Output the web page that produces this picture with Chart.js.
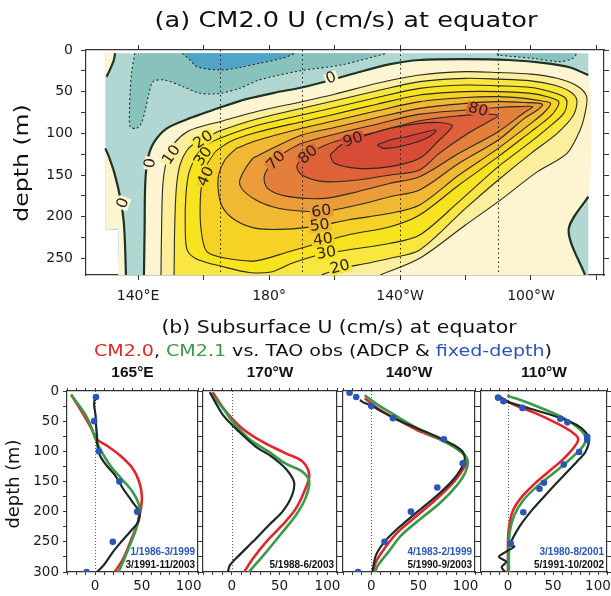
<!DOCTYPE html>
<html>
<head>
<meta charset="utf-8">
<title>CM2.0 U at equator</title>
<script src="https://cdn.jsdelivr.net/npm/chart.js@4.4.1/dist/chart.umd.min.js"></script>
<style>
  body { margin: 0; background: #fff; }
  #page { position: relative; width: 611px; height: 596px; overflow: hidden; }
  #page canvas { position: absolute; }
</style>
</head>
<body>
<div id="page">
  <canvas id="section" width="611" height="365" style="left:0;top:0"></canvas>
  <canvas id="p165" width="203" height="234" style="left:0;top:362px"></canvas>
  <canvas id="p170" width="144" height="234" style="left:198px;top:362px"></canvas>
  <canvas id="p140" width="142" height="234" style="left:338px;top:362px"></canvas>
  <canvas id="p110" width="135" height="234" style="left:476px;top:362px"></canvas>
</div>
<script>
// ---------------- (a) CM2.0 U section along the equator ----------------
// points are [longitude (deg E), depth (m)]
const lonTickValues = [140, 160, 180, 200, 220, 240, 260, 280];
const lonTickLabels = ['140°E', '', '180°', '', '140°W', '', '100°W', ''];
const depthTicksA = [0, 25, 50, 75, 100, 125, 150, 175, 200, 225, 250];
const stationLons = [165, 190, 220, 250];

const dataEdge = [[130,4],[277.5,4],[277.5,270],[134,270],[134,216],[130,216]];
const stripEdge = [[134,270],[134,216],[130,216]];
const topLeftEdge = [[130,32],[130,4]];

const zeroWestStrip = [[130,118],[131,127],[132.8,148],[134.6,178],[135.6,205],[136,232],[136.3,270]];
const zeroTopLeft = [[133,4],[132.6,12],[131.6,22],[130.4,32]];
const zeroMain = [[141.8,270],[142,215],[142.2,160],[143,130],[145,110],[148.8,94],[155,83],[160,76],[165,69],[173,59],[182,51],[190,45],[199,36],[207,27],[217,17],[226,12],[240,11],[253,12],[265,16],[272,21],[277.5,30]];
const zeroEast = [[277.5,176],[271.5,216],[276.5,270]];

const negTenWest = [[139,4],[138,28],[137.6,50],[137.4,70],[137.6,92],[139.6,94],[141,88],[142.2,72],[143.2,54],[144.6,38],[148,36],[153.8,44],[159,52],[165,52],[171,46],[177,36],[189.5,25],[202,18],[214,6],[216,4]];
const negTwenty = [[153.5,4],[155.9,12],[158,20],[165,24],[171,21],[177,16],[184,10],[188,4]];
const negTenEast = [[249.6,4],[250,6],[260.6,10],[268.9,14],[272.8,10],[274,4]];

const c10 = [[147,270],[147.2,210],[147.6,160],[149,128],[151,112],[155,98],[160,91],[165,86],[176,74],[190,62],[200,53],[213,40],[226,30],[240,26],[250,27],[260,29],[268,34],[274,43],[277,56],[276.5,76],[275,96],[271,124],[262,146],[250,182],[240,210],[226,250],[214,270]];
const c20 = [[151,270],[151.2,210],[151.7,165],[152.8,138],[155,120],[158,110],[162,103],[165,97],[176,83],[190,70],[200,61],[213,49],[226,38],[240,34],[250,35],[260,37],[267,42],[272,50],[274,60],[273,78],[268,100],[260,124],[250,156],[240,190],[226,240],[217,250],[210,256],[202,262],[196,270]];
const c30 = [[157.5,128],[160,116],[165,106],[176,91],[190,78],[200,69],[213,57],[226,46],[240,42],[250,43],[260,45],[266,50],[270,56],[271,62],[270,76],[265,94],[260,110],[250,140],[238,182],[226,222],[217,232],[204,240],[195,246],[187,256],[181,266],[174,267],[166,260],[158,251],[155,240],[154.4,210],[154.6,175],[155.5,148]];
const c40 = [[163.5,122],[168,110],[176,99],[190,86],[200,77],[213,65],[226,54],[240,50],[250,50],[260,52],[265,56],[268.5,62],[267,75],[264,86],[260,98],[250,128],[238,162],[226,198],[217,212],[204,222],[195,232],[186,242],[176,253],[167,250],[161,242],[159.2,214],[159,180],[159.6,158],[161,138]];
const c50 = [[170,118],[176,109],[190,94],[200,85],[213,73],[226,62],[240,57],[250,56],[258,58],[263,61],[266,64],[264,75],[260,88],[250,118],[238,150],[226,186],[217,196],[204,204],[195,211],[185,215],[176,214],[170,205],[166,190],[164.6,172],[164.6,150],[166.5,132]];
const c60 = [[175,130],[180,120],[190,102],[200,93],[213,81],[226,70],[240,64],[250,62],[258,63],[263.5,65],[262,72],[258,82],[250,108],[238,136],[226,168],[217,176],[207,186],[196,194],[186,192],[181,188],[176,180],[172,168],[171,158],[172.5,144]];
const c70 = [[182,130],[186,120],[190,112],[200,101],[213,89],[226,77],[240,72],[250,69],[256,68],[260.5,68],[258,75],[250,98],[238,124],[226,152],[217,160],[207,170],[197,178],[186,176],[179.5,166],[178.5,152],[180,140]];
const c80 = [[190,130],[194,120],[200,110],[213,98],[226,85],[238,79],[246,77],[250,79],[247,86],[240,102],[232,124],[226,144],[217,150],[207,156],[197,158],[190,150],[188.5,140]];
const c90 = [[198.6,126],[202,114],[206,108],[210,102],[217,94],[226,88],[232,87],[236,91],[232,108],[226,130],[217,140],[207,142],[200,136]];
const c100 = [[213,114],[217,108],[222,104],[228,98],[231,96],[229,104],[222,114],[215,118]];

const labelLon = [199, 143.8, 135.5, 150.3, 160, 160, 160.8, 182.2, 192, 205.7, 243.8, 196, 195.5, 196.5, 197.5, 201.7];
const labelDepth = [34, 136, 184, 126, 108, 128, 152, 133, 126, 108, 72, 194, 211, 228, 244, 261];
const labelText = ['0', '0', '0', '10', '20', '30', '40', '70', '80', '90', '80', '60', '50', '40', '30', '20'];
const labelLevel = [0, 0, 0, 10, 20, 30, 40, 70, 80, 90, 80, 60, 50, 40, 30, 20];
const labelAngle = [-20, -82, -70, -55, -35, -55, -65, -45, -40, -20, 15, -8, -8, -8, -10, -15];

// ---------------- (b) subsurface U profiles, points are [U (cm/s), depth (m)] ----------------
const uTicks = [-30, -20, -10, 0, 10, 20, 30, 40, 50, 60, 70, 80, 90, 100, 110];
const uLabelValues = [0, 50, 100];
const depthTicksB = [0, 25, 50, 75, 100, 125, 150, 175, 200, 225, 250, 275, 300];

const p165cm20 = [[-25.6,6],[-14,35],[-4,62],[2,80],[12,90],[26,106],[40,128],[47,150],[50,173],[49,195],[46,217],[39,245],[30,278],[21,300]];
const p165cm21 = [[-25.6,6],[-18,22],[-10,40],[-4,60],[0,78],[5,95],[16,123],[28,145],[40,167],[47,189],[47,206],[44,228],[37,256],[30,283],[25,300]];
const p165adcp = [[0,7],[-1,23],[0.5,40],[1,55],[2,73],[2.5,90],[5,106],[12,123],[21,139],[30,162],[40,184],[47,200],[46,217],[37,234],[28,250],[19,267],[9,289],[2,300]];
const p165fixed = [[1,10],[-1,50],[4,100],[26,150],[45,200],[19,250],[-9,300]];
const p165dates = ['1/1986-3/1999', '3/1991-11/2003'];

const p170cm20 = [[-20,2],[-6,34],[11,62],[32,84],[56,103],[74,117],[81,139],[77,162],[67,195],[53,222],[36,250],[22,278],[13,300]];
const p170cm21 = [[-22,4],[-9,29],[1,51],[18,79],[39,101],[56,120],[74,134],[81,150],[77,178],[67,206],[53,234],[36,267],[18,300]];
const p170adcp = [[-23,2],[-9,40],[8,68],[25,92],[42,109],[56,128],[65,150],[63,173],[53,200],[39,222],[22,250],[8,272],[-2,289],[-4,300]];
const p170dates = [null, '5/1988-6/2003'];

const p140cm20 = [[-7,12],[7,29],[25,45],[49,65],[74,81],[93,98],[101,112],[98,128],[88,150],[70,178],[49,206],[28,234],[14,261],[5,283],[2,300]];
const p140cm21 = [[-7,7],[7,23],[25,40],[49,62],[74,81],[93,98],[102,114],[100,134],[91,156],[74,184],[53,211],[32,239],[18,267],[7,289],[4,300]];
const p140adcp = [[-12,15],[-7,20],[0,24],[11,34],[28,48],[49,62],[70,76],[88,90],[98,103],[98,120],[88,145],[70,173],[49,200],[28,228],[14,250],[5,272],[1,300]];
const p140fixed = [[-23,3],[-16,10],[0,25],[23,45],[77,80],[97,120],[70,160],[42,200],[14,250],[-14,300]];
const p140dates = ['4/1983-2/1999', '5/1990-9/2003'];

const p110cm20 = [[-10,9],[7,23],[31,37],[55,54],[71,68],[78,79],[74,92],[62,112],[45,134],[28,156],[14,178],[5,200],[1,228],[0,250],[0,300]];
const p110cm21 = [[-1,8],[14,15],[38,29],[62,45],[79,62],[86,76],[84,90],[72,109],[55,131],[34,156],[17,181],[7,206],[2,233],[1,267],[1,300]];
const p110adcp = [[-12,9],[0,18],[24,29],[55,43],[76,56],[86,68],[90,81],[86,101],[76,118],[62,140],[45,167],[28,195],[14,222],[5,245],[3,256],[7,258],[-3,267],[-10,275],[-2,283],[-7,292],[-3,300]];
const p110fixed = [[-11,11],[-5,17],[16,28],[58,46],[66,52],[88,76],[88,81],[79,101],[62,122],[40,152],[35,162],[17,201],[3,253]];
const p110dates = ['3/1980-8/2001', '5/1991-10/2002'];

// ---------------- styles ----------------
const RED = '#e1262c', GREEN = '#3b9a49', BLACK = '#1b2a22', BLUE = '#2b55b8';
const TEAL = '#b1d7d2', TEAL_DARK = '#88c2bd', SEA_BLUE = '#4fa5c8';
const band = {
  0: '#fdf5d2', 10: '#fbee9c', 20: '#f9e63e', 30: '#f8e31f', 40: '#f6d227',
  50: '#f1b833', 60: '#eb9c3a', 70: '#e47e3b', 80: '#de6139', 90: '#d84c37', 100: '#d34134'
};
const LINE = '#2a2a20', ZERO_LINE = '#1d3326', AXIS = '#333';
const FONT = 'DejaVu Sans';

Chart.defaults.font.family = FONT;
Chart.defaults.color = '#1a1a1a';

function wideText(ctx, text, x, y, size, o = {}) {
  const {sx = 1.2, color = '#111', align = 'center', weight = 'normal', family = FONT, rot = 0, bg = null} = o;
  ctx.save();
  ctx.font = `${weight} ${size}px "${family}"`;
  ctx.textBaseline = 'middle';
  ctx.textAlign = 'left';
  const w = ctx.measureText(text).width * sx;
  ctx.translate(x, y);
  ctx.rotate(rot);
  const x0 = align === 'center' ? -w / 2 : align === 'right' ? -w : 0;
  if (bg) {
    ctx.fillStyle = bg;
    ctx.fillRect(x0 - 1.5, -size * 0.42, w + 3, size * 0.84);
  }
  ctx.translate(x0, 0);
  ctx.scale(sx, 1);
  ctx.fillStyle = color;
  ctx.fillText(text, 0, 0);
  ctx.restore();
  return w;
}

function fillSet(pts, color, tension = 0.3) {
  return {data: pts.map(p => p.slice()), showLine: true, fill: 'shape', backgroundColor: color,
    borderColor: 'rgba(0,0,0,0)', borderWidth: 0, pointRadius: 0, tension};
}
function lineSet(pts, color, width, dash, closed) {
  const d = pts.map(p => p.slice());
  if (closed) d.push(pts[0].slice());
  return {data: d, showLine: true, fill: false, borderColor: color, borderWidth: width,
    borderDash: dash || [], pointRadius: 0, tension: 0.3};
}

// painter's order: first = bottom
const sectionSets = [
  fillSet(dataEdge, TEAL, 0),
  fillSet([...zeroWestStrip, ...stripEdge], band[0], 0.2),
  fillSet([...zeroTopLeft, ...topLeftEdge], band[0], 0.2),
  fillSet(negTenWest, TEAL_DARK),
  fillSet(negTenEast, TEAL_DARK),
  fillSet(negTwenty, SEA_BLUE),
  fillSet([...zeroMain, ...zeroEast], band[0]),
  fillSet(c10, band[10]), fillSet(c20, band[20]), fillSet(c30, band[30]), fillSet(c40, band[40]),
  fillSet(c50, band[50]), fillSet(c60, band[60]), fillSet(c70, band[70]), fillSet(c80, band[80]),
  fillSet(c90, band[90]), fillSet(c100, band[100]),
  lineSet(negTenWest, LINE, 1.1, [2, 2.5]),
  lineSet(negTenEast, LINE, 1.1, [2, 2.5]),
  lineSet(negTwenty, LINE, 1.1, [2, 2.5]),
  lineSet(c10, LINE, 1.1), lineSet(c20, LINE, 1.1),
  lineSet(c30, LINE, 1.1, null, true), lineSet(c40, LINE, 1.1, null, true),
  lineSet(c50, LINE, 1.1, null, true), lineSet(c60, LINE, 1.1, null, true),
  lineSet(c70, LINE, 1.1, null, true), lineSet(c80, LINE, 1.1, null, true),
  lineSet(c90, LINE, 1.1, null, true), lineSet(c100, LINE, 1.1, null, true),
  lineSet(zeroMain, ZERO_LINE, 2.2), lineSet(zeroEast, ZERO_LINE, 2.2),
  lineSet(zeroWestStrip, ZERO_LINE, 2.2), lineSet(zeroTopLeft, ZERO_LINE, 2.2)
];
sectionSets.forEach((s, i) => { s.order = sectionSets.length - i; });

const sectionDecor = {
  id: 'sectionDecor',
  afterDatasetsDraw(chart) {
    const {ctx, chartArea: a, scales: {x, y}} = chart;
    ctx.save();
    ctx.beginPath(); ctx.rect(a.left, a.top, a.width, a.height); ctx.clip();
    ctx.strokeStyle = '#222'; ctx.lineWidth = 1; ctx.setLineDash([1.5, 3]);
    stationLons.forEach(lon => {
      const px = Math.round(x.getPixelForValue(lon)) + 0.5;
      ctx.beginPath(); ctx.moveTo(px, a.top); ctx.lineTo(px, a.bottom); ctx.stroke();
    });
    ctx.restore();
    labelText.forEach((t, i) => {
      wideText(ctx, t, x.getPixelForValue(labelLon[i]), y.getPixelForValue(labelDepth[i]), 15,
        {sx: 1.05, color: '#2a2418', rot: labelAngle[i] * Math.PI / 180, bg: band[labelLevel[i]]});
    });
  },
  afterDraw(chart) {
    const ctx = chart.ctx;
    wideText(ctx, '(a) CM2.0 U (cm/s) at equator', 346, 22, 21, {sx: 1.22});
    wideText(ctx, 'depth (m)', 23, 163, 20, {sx: 1.18, rot: -Math.PI / 2});
    wideText(ctx, '(b) Subsurface U (cm/s) at equator', 339, 329, 17, {sx: 1.2});
    const parts = [['CM2.0', RED], [', ', '#111'], ['CM2.1', GREEN], [' vs. TAO obs (', '#111'],
      ['ADCP', '#111'], [' & ', '#111'], ['fixed-depth', BLUE], [')', '#111']];
    ctx.save();
    ctx.font = `16px "${FONT}"`;
    const total = parts.reduce((s, p) => s + ctx.measureText(p[0]).width * 1.19, 0);
    ctx.restore();
    let cx = 323 - total / 2;
    parts.forEach(p => { cx += wideText(ctx, p[0], cx, 352, 16, {sx: 1.19, color: p[1], align: 'left'}); });
  }
};

const axisStyle = {
  grid: {drawOnChartArea: false, drawTicks: true, tickLength: 5, color: AXIS, lineWidth: 1},
  border: {display: true, color: AXIS, width: 1.2}
};

new Chart(document.getElementById('section'), {
  type: 'scatter',
  data: {datasets: sectionSets},
  options: {
    responsive: false, animation: false, events: [],
    layout: {padding: {top: 44, left: 0, right: 0, bottom: 0}},
    plugins: {legend: {display: false}, tooltip: {enabled: false}},
    scales: {
      x: {type: 'linear', position: 'bottom', min: 124.1, max: 282.3, ...axisStyle,
        afterBuildTicks: s => { s.ticks = lonTickValues.map(v => ({value: v})); },
        afterFit: s => { s.height = 90; },
        ticks: {autoSkip: false, maxRotation: 0, padding: 8, color: '#1a1a1a', font: {size: 14},
          callback: v => lonTickLabels[lonTickValues.indexOf(v)] || ''}},
      x2: {type: 'linear', position: 'top', min: 124.1, max: 282.3, ...axisStyle,
        afterBuildTicks: s => { s.ticks = lonTickValues.map(v => ({value: v})); },
        afterFit: s => { s.height = 6; },
        ticks: {display: false}},
      y: {type: 'linear', position: 'left', min: 0, max: 270, reverse: true, ...axisStyle,
        afterBuildTicks: s => { s.ticks = depthTicksA.map(v => ({value: v})); },
        afterFit: s => { s.width = 86; },
        ticks: {autoSkip: false, padding: 8, color: '#1a1a1a', font: {size: 14},
          callback: v => (v % 50 === 0 ? String(v) : '')}},
      y2: {type: 'linear', position: 'right', min: 0, max: 270, reverse: true, ...axisStyle,
        afterBuildTicks: s => { s.ticks = depthTicksA.map(v => ({value: v})); },
        afterFit: s => { s.width = 7; },
        ticks: {display: false}}
    }
  },
  plugins: [sectionDecor]
});

// ---------------- (b) the four station panels ----------------
const panelDecor = {
  id: 'panelDecor',
  beforeDatasetsDraw(chart) {
    const {ctx, chartArea: a, scales: {x}} = chart;
    const px = Math.round(x.getPixelForValue(0)) + 0.5;
    ctx.save();
    ctx.strokeStyle = '#555'; ctx.lineWidth = 1; ctx.setLineDash([1, 2]);
    ctx.beginPath(); ctx.moveTo(px, a.top); ctx.lineTo(px, a.bottom); ctx.stroke();
    ctx.restore();
  },
  afterDraw(chart, args, opts) {
    const {ctx, chartArea: a} = chart;
    wideText(ctx, opts.name, (a.left + a.right) / 2, 11, 15.5,
      {sx: 1, weight: 'bold', family: 'Liberation Sans', color: '#111'});
    if (opts.dates[0]) wideText(ctx, opts.dates[0], a.right - 3, a.bottom - 20, 10,
      {sx: 1, weight: 'bold', family: 'Liberation Sans', color: BLUE, align: 'right'});
    if (opts.dates[1]) wideText(ctx, opts.dates[1], a.right - 3, a.bottom - 7, 10,
      {sx: 1, weight: 'bold', family: 'Liberation Sans', color: '#111', align: 'right'});
    if (opts.yTitle) wideText(ctx, 'depth (m)', 15, 122, 17, {sx: 1.05, rot: -Math.PI / 2});
  }
};

const panels = [
  {id: 'p165', name: '165°E', cm20: p165cm20, cm21: p165cm21, adcp: p165adcp, fixed: p165fixed, dates: p165dates, yLabels: true, left: 67, right: 5},
  {id: 'p170', name: '170°W', cm20: p170cm20, cm21: p170cm21, adcp: p170adcp, fixed: null, dates: p170dates, yLabels: false, left: 5, right: 5},
  {id: 'p140', name: '140°W', cm20: p140cm20, cm21: p140cm21, adcp: p140adcp, fixed: p140fixed, dates: p140dates, yLabels: false, left: 5, right: 5},
  {id: 'p110', name: '110°W', cm20: p110cm20, cm21: p110cm21, adcp: p110adcp, fixed: p110fixed, dates: p110dates, yLabels: false, left: 5, right: 0}
];

const panelAxis = (len) => ({
  grid: {drawOnChartArea: false, drawTicks: true, tickLength: len, color: AXIS, lineWidth: 1},
  border: {display: true, color: AXIS, width: 1.2}
});

panels.forEach(p => {
  const sets = [
    {data: p.cm20, showLine: true, borderColor: RED, borderWidth: 2.6, pointRadius: 0, tension: 0.35, fill: false},
    {data: p.cm21, showLine: true, borderColor: GREEN, borderWidth: 2.6, pointRadius: 0, tension: 0.35, fill: false},
    {data: p.adcp, showLine: true, borderColor: BLACK, borderWidth: 2.2, pointRadius: 0, tension: 0.3, fill: false}
  ];
  if (p.fixed) sets.push({data: p.fixed, showLine: false, pointRadius: 3.3, backgroundColor: BLUE, borderWidth: 0});
  sets.forEach((s, i) => { s.order = sets.length - i; });

  new Chart(document.getElementById(p.id), {
    type: 'scatter',
    data: {datasets: sets},
    options: {
      responsive: false, animation: false, events: [],
      layout: {padding: {top: 25, left: 0, right: 0, bottom: 0}},
      plugins: {legend: {display: false}, tooltip: {enabled: false},
        panelDecor: {name: p.name, dates: p.dates, yTitle: p.yLabels}},
      scales: {
        x: {type: 'linear', position: 'bottom', min: -30, max: 110, ...panelAxis(3),
          afterBuildTicks: s => { s.ticks = uTicks.map(v => ({value: v})); },
          afterFit: s => { s.height = 24; },
          ticks: {autoSkip: false, maxRotation: 0, padding: 3, color: '#1a1a1a', font: {size: 13.5},
            callback: v => (uLabelValues.includes(v) ? String(v) : '')}},
        x2: {type: 'linear', position: 'top', min: -30, max: 110, ...panelAxis(3),
          afterBuildTicks: s => { s.ticks = uTicks.map(v => ({value: v})); },
          afterFit: s => { s.height = 4; },
          ticks: {display: false}},
        y: {type: 'linear', position: 'left', min: 0, max: 300, reverse: true, ...panelAxis(4),
          afterBuildTicks: s => { s.ticks = depthTicksB.map(v => ({value: v})); },
          afterFit: s => { s.width = p.left; },
          ticks: {display: p.yLabels, autoSkip: false, padding: 4, color: '#1a1a1a', font: {size: 13.5},
            callback: v => (v % 50 === 0 ? String(v) : '')}},
        y2: {type: 'linear', position: 'right', min: 0, max: 300, reverse: true, ...panelAxis(4),
          afterBuildTicks: s => { s.ticks = depthTicksB.map(v => ({value: v})); },
          afterFit: s => { s.width = p.right; },
          ticks: {display: false}}
      }
    },
    plugins: [panelDecor]
  });
});
</script>
</body>
</html>
